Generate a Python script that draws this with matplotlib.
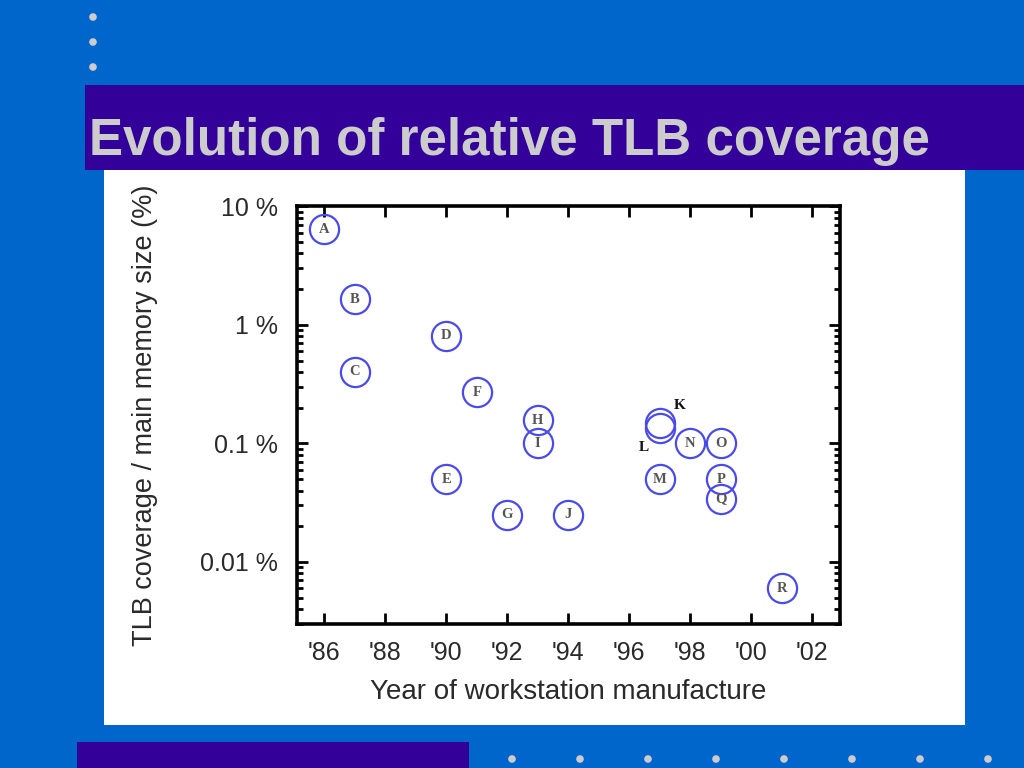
import matplotlib

matplotlib.use("Agg")
import matplotlib.pyplot as plt
from matplotlib.patches import Circle, Rectangle
from matplotlib.ticker import FixedLocator, FuncFormatter, LogLocator, NullFormatter

# data
labels = list("ABCDEFGHIJKLMNOPQR")
years = [86, 87, 87, 90, 90, 91, 92, 93, 93, 94, 97, 97, 97, 98, 99, 99, 99, 101]
coverage = [6.4, 1.65, 0.40, 0.81, 0.05, 0.27, 0.025, 0.156, 0.1, 0.025,
            0.150, 0.134, 0.05, 0.1, 0.1, 0.05, 0.034, 0.006]
outside = {"K": (14, 12), "L": (-11.5, -14)}
x_ticks = list(range(86, 103, 2))
y_ticks = [0.01, 0.1, 1, 10]
y_ticklabels = ["0.01 %", "0.1 %", "1 %", "10 %"]

BLUE = "#0066cc"
PURPLE = "#330099"
LIGHT = "#cccccc"
SANS = ["Liberation Sans", "DejaVu Sans"]

fig = plt.figure(figsize=(10.24, 7.68), dpi=100)
fig.patch.set_facecolor(BLUE)

# slide decoration in pixel coordinates
bg = fig.add_axes((0, 0, 1, 1))
bg.set_xlim(0, 1024)
bg.set_ylim(768, 0)
bg.axis("off")
bg.add_patch(Rectangle((85, 85), 939, 85, color=PURPLE, lw=0))
bg.add_patch(Rectangle((104, 170), 861, 555, color="white", lw=0))
bg.add_patch(Rectangle((77, 742), 392, 26, color=PURPLE, lw=0))
for y in (17, 42, 67):
    bg.add_patch(Circle((93, y), 3.8, color=LIGHT, lw=0))
for x in (512, 580, 648, 716, 784, 852, 920, 988):
    bg.add_patch(Circle((x, 759), 3.8, color=LIGHT, lw=0))
bg.text(89, 155, "Evolution of relative TLB coverage", fontsize=36.8, fontweight="bold",
        family=SANS, color=LIGHT, va="baseline", ha="left")

ax = fig.add_axes((0.290, 0.1875, 0.530, 0.544))
ax.set_facecolor("white")
ax.set_yscale("log")
ax.set_xlim(85.1, 102.9)
ax.set_ylim(0.003, 10)

ax.plot(years, coverage, linestyle="none", marker="o", markersize=21,
        markerfacecolor="none", markeredgecolor="#4a4ae8", markeredgewidth=1.6)
for lab, x, y in zip(labels, years, coverage):
    if lab in outside:
        dx, dy = outside[lab]
        ax.annotate(lab, (x, y), xytext=(dx, dy), textcoords="offset points",
                    ha="center", va="center", fontsize=11, fontweight="bold",
                    family="Liberation Serif", color="#111111")
    else:
        ax.text(x, y, lab, ha="center", va="center", fontsize=10.5, fontweight="bold",
                family="Liberation Serif", color="#555555")

ax.xaxis.set_major_locator(FixedLocator(x_ticks))
ax.xaxis.set_major_formatter(FuncFormatter(lambda v, _: f"'{int(v) % 100:02d}"))
ax.yaxis.set_major_locator(FixedLocator(y_ticks))
ax.set_yticklabels(y_ticklabels)
ax.yaxis.set_minor_locator(LogLocator(base=10, subs=range(2, 10), numticks=20))
ax.yaxis.set_minor_formatter(NullFormatter())

ax.tick_params(which="both", direction="in", top=True, right=True, width=2, colors="black",
               labelcolor="#2a2a2a", labelsize=18)
ax.tick_params(which="major", length=8)
ax.tick_params(which="minor", length=4)
ax.tick_params(axis="y", pad=13.5)
ax.tick_params(axis="x", pad=12)
for spine in ax.spines.values():
    spine.set_linewidth(2.6)
for t in ax.get_xticklabels() + ax.get_yticklabels():
    t.set_family(SANS)

ax.set_xlabel("Year of workstation manufacture", fontsize=20, color="#2a2a2a", family=SANS)
ax.set_ylabel("TLB coverage / main memory size (%)", fontsize=19.5, color="#2a2a2a", family=SANS)
ax.xaxis.set_label_coords(0.5, -0.163)
ax.xaxis.label.set_va("center")
ax.yaxis.set_label_coords(-0.28, 0.5)
ax.yaxis.label.set_va("center")

fig.savefig("out.png", dpi=100, facecolor=fig.get_facecolor())
